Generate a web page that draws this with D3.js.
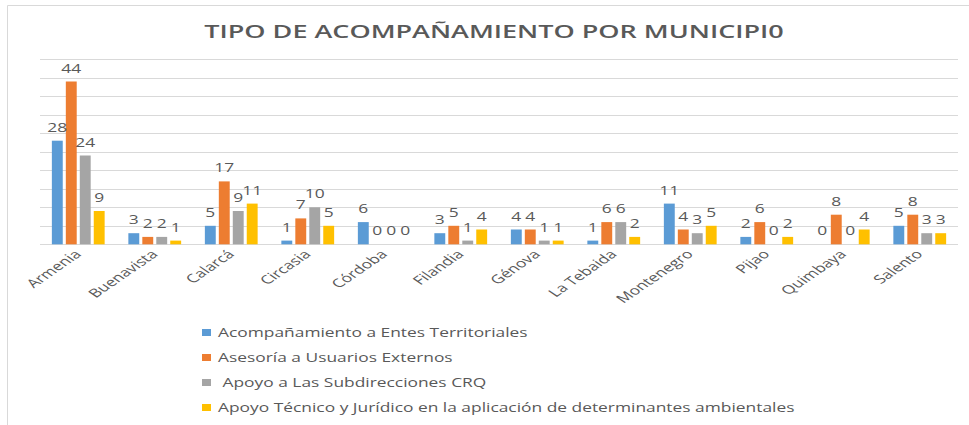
<!DOCTYPE html>
<html>
<head>
<meta charset="utf-8">
<script src="https://cdn.jsdelivr.net/npm/d3@7"></script>
<style>
  body { margin: 0; background: #fff; }
  text { font-family: "Open Sans", sans-serif; fill: #595959; }
</style>
</head>
<body>
<div id="chart"></div>
<script>
// Municipios y series
var municipios = ["Armenia", "Buenavista", "Calarcá", "Circasia", "Córdoba", "Filandia",
                  "Génova", "La Tebaida", "Montenegro", "Pijao", "Quimbaya", "Salento"];
var series = ["Acompañamiento a Entes Territoriales", "Asesoría a Usuarios Externos",
              " Apoyo a Las Subdirecciones CRQ",
              "Apoyo Técnico y Jurídico en la aplicación de determinantes ambientales"];
var acompanamiento = [28, 3, 5, 1, 6, 3, 4, 1, 11, 2, 0, 5];
var asesoria       = [44, 2, 17, 7, 0, 5, 4, 6, 4, 6, 8, 8];
var apoyoSub       = [24, 2, 9, 10, 0, 1, 1, 6, 3, 0, 0, 3];
var apoyoTecnico   = [9, 1, 11, 5, 0, 4, 1, 2, 5, 2, 4, 3];
var yTicks = [0, 5, 10, 15, 20, 25, 30, 35, 40, 45, 50];

var colors = ["#5B9BD5", "#ED7D31", "#A5A5A5", "#FFC000"];
var values = [acompanamiento, asesoria, apoyoSub, apoyoTecnico];

var w = 969, h = 425;
var sx = 1.45; // el original está estirado horizontalmente

var svg = d3.select("#chart").append("svg")
    .attr("width", w)
    .attr("height", h);

// marco
svg.append("path")
   .attr("d", "M7.5," + h + "V5.5H" + w)
   .attr("fill", "none")
   .attr("stroke", "#d9d9d9");

// titulo
svg.append("text")
   .attr("transform", "translate(494,38) scale(1.5,1)")
   .attr("text-anchor", "middle")
   .attr("font-size", "18px")
   .attr("font-weight", "600")
   .text("TIPO DE ACOMPAÑAMIENTO POR MUNICIPI0");

var x0 = d3.scaleBand()
    .domain(municipios)
    .range([40, 958])
    .paddingInner(0.31)
    .paddingOuter(0.155);

var x1 = d3.scaleBand()
    .domain(d3.range(4))
    .range([0, x0.bandwidth()])
    .paddingInner(0.22);

var y = d3.scaleLinear()
    .domain([0, 50])
    .range([244.3, 59.3]);

// lineas de cuadricula
svg.append("g")
   .selectAll("line")
   .data(yTicks)
   .enter()
   .append("line")
   .attr("x1", 40)
   .attr("x2", 958)
   .attr("y1", function(d) { return Math.round(y(d)) + 0.5; })
   .attr("y2", function(d) { return Math.round(y(d)) + 0.5; })
   .attr("stroke", "#d9d9d9");

var rows = [];
municipios.forEach(function(m, i) {
  values.forEach(function(s, j) {
    rows.push({ m: m, s: j, v: s[i] });
  });
});

// barras
svg.append("g")
   .selectAll("rect")
   .data(rows)
   .enter()
   .append("rect")
   .attr("x", function(d) { return x0(d.m) + x1(d.s); })
   .attr("y", function(d) { return y(d.v); })
   .attr("width", x1.bandwidth())
   .attr("height", function(d) { return y(0) - y(d.v); })
   .attr("fill", function(d) { return colors[d.s]; });

// etiquetas de valor
svg.append("g")
   .selectAll("text")
   .data(rows)
   .enter()
   .append("text")
   .attr("transform", function(d) {
     return "translate(" + (x0(d.m) + x1(d.s) + x1.bandwidth() / 2) + "," + (y(d.v) - 9) + ") scale(" + sx + ",1)";
   })
   .attr("text-anchor", "middle")
   .attr("font-size", "12px")
   .text(function(d) { return d.v; });

// etiquetas del eje x
svg.append("g")
   .selectAll("text")
   .data(municipios)
   .enter()
   .append("text")
   .attr("transform", function(d) {
     return "translate(" + (x0(d) + x0.bandwidth() / 2 + 4) + ",255) scale(" + sx + ",1) rotate(-45)";
   })
   .attr("text-anchor", "end")
   .attr("font-size", "12px")
   .text(function(d) { return d; });

// leyenda
var leg = svg.append("g")
   .selectAll("g")
   .data(series)
   .enter()
   .append("g")
   .attr("transform", function(d, i) { return "translate(202," + (329 + i * 25) + ")"; });

leg.append("rect")
   .attr("width", 9)
   .attr("height", 7)
   .attr("fill", function(d, i) { return colors[i]; });

leg.append("text")
   .attr("transform", "translate(16,8) scale(1.39,1)")
   .attr("font-size", "12.5px")
   .attr("xml:space", "preserve")
   .style("white-space", "pre")
   .text(function(d) { return d; });
</script>
</body>
</html>
